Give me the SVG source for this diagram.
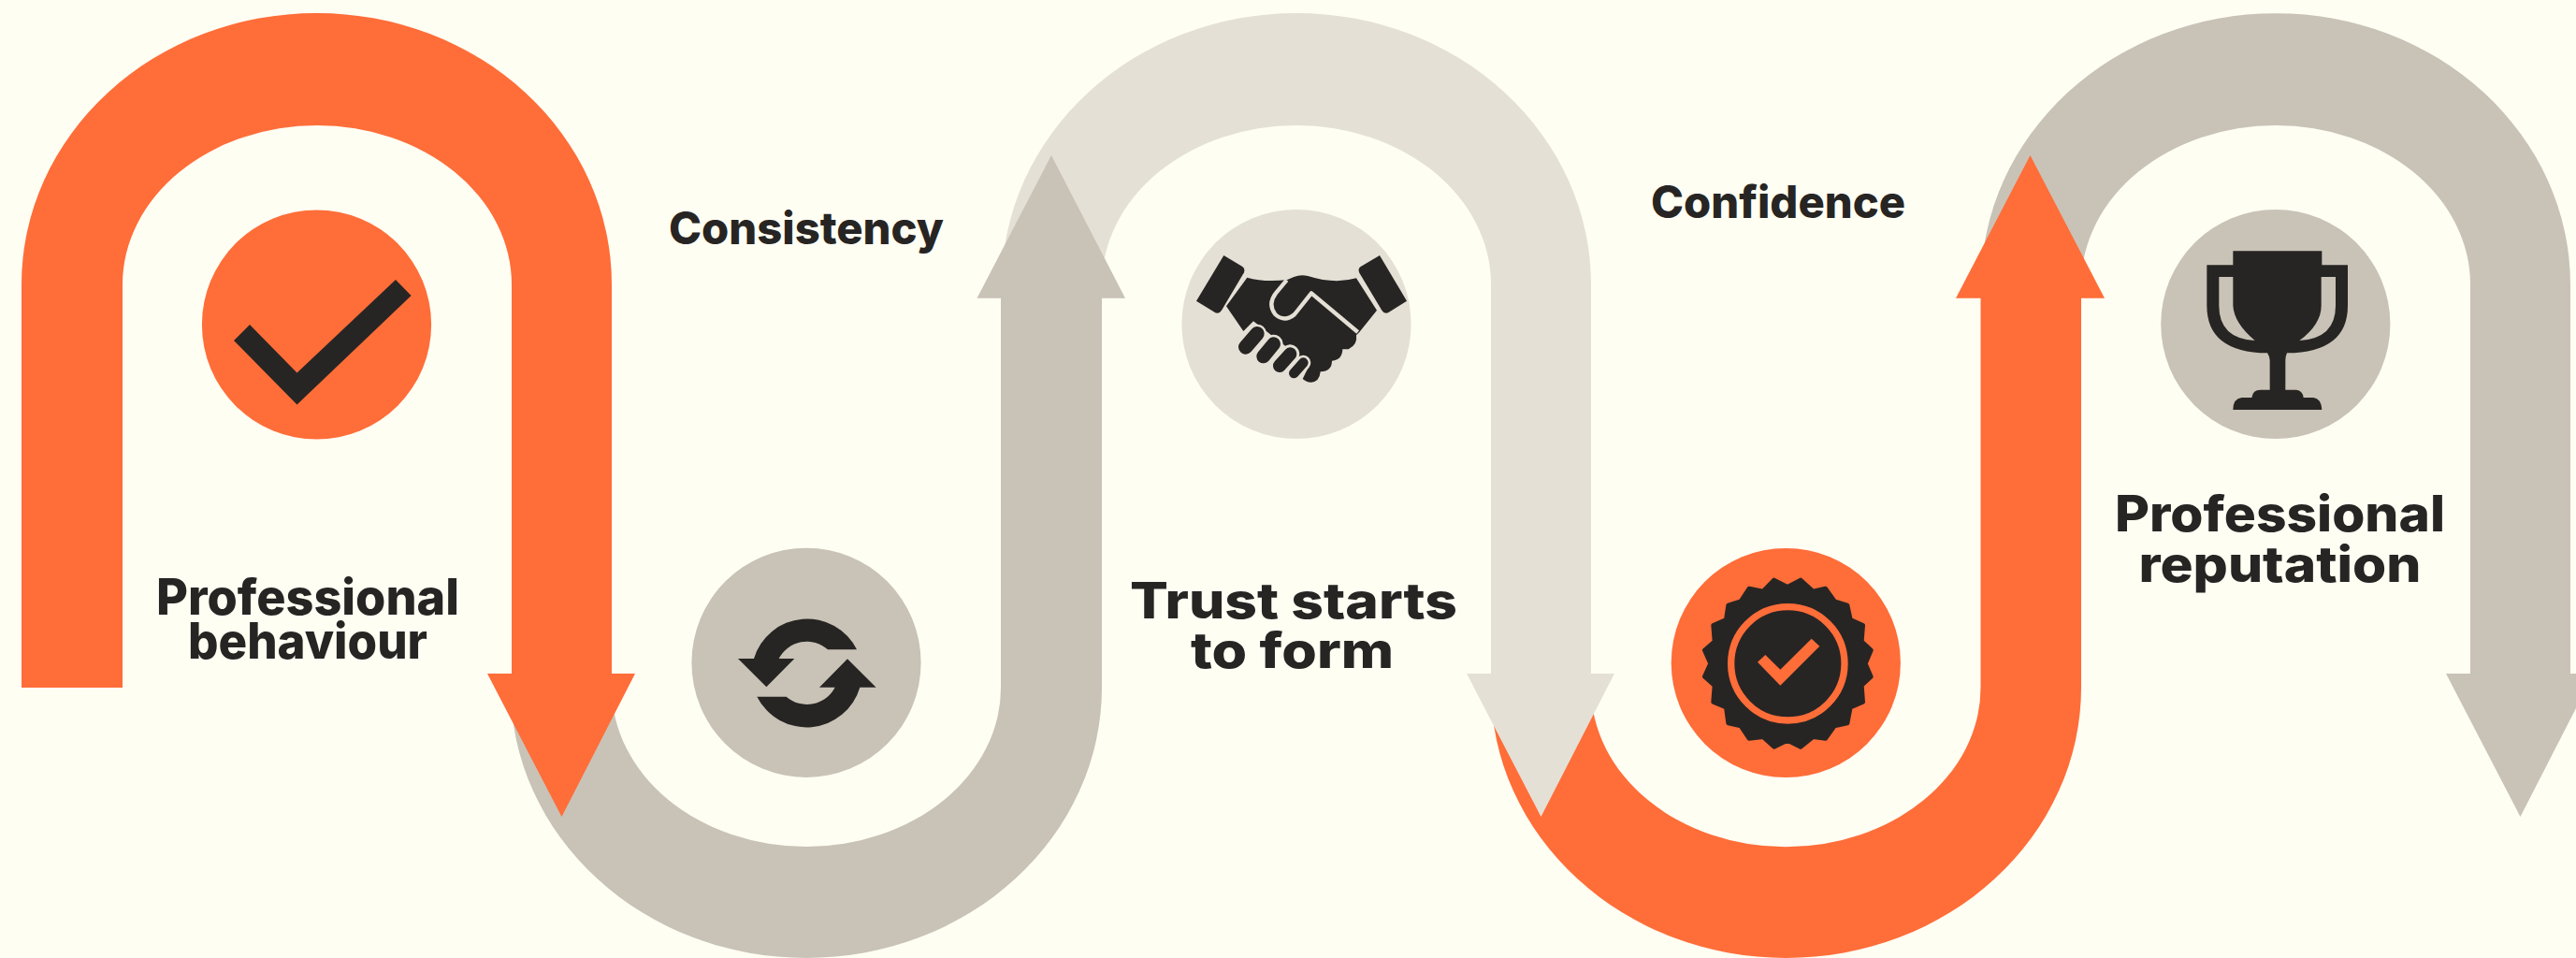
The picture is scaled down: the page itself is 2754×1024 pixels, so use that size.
<svg xmlns="http://www.w3.org/2000/svg" width="2754" height="1024" viewBox="0 0 2754 1024">
<style>
.bg{fill:#FFFEF3}
.o{fill:#FF6D39}
.g{fill:#C9C3B7}
.l{fill:#E5E0D6}
.d{fill:#272523}
text{font-family:"Inter","Liberation Sans",sans-serif;font-weight:800;fill:#272523;text-anchor:middle}
.lg{font-size:53px}
.md{font-size:48px}
</style>
<rect class="bg" width="2754" height="1024"/>
<g id="connectors">
<path id="band5" class="g" d="M2118,304A315,290 0 0 1 2748,304V720H2773L2694.5,873L2615,720H2641V304A208,170 0 0 0 2225,304Z"/>
<path id="band4" class="o" d="M1594,735A315.5,289 0 0 0 2225,735V318.7H2250L2170.5,166L2091,318.7H2117.5V735A208,170 0 0 1 1701,735Z"/>
<path id="band3" class="l" d="M1071,304A315,290 0 0 1 1701,304V720H1726L1647.5,873L1568,720H1594V304A208,170 0 0 0 1178,304Z"/>
<path id="band2" class="g" d="M546,735A316,289 0 0 0 1178,735V318.7H1203L1124,166L1044.5,318.7H1070V735A208,170 0 0 1 654,735Z"/>
<path id="band1" class="o" d="M23,735V304A315.5,290 0 0 1 654,304V720H679L600.5,873L521,720H547V304A208,170 0 0 0 131,304V735Z"/>
</g>
<g id="node-behaviour">
<circle class="o" cx="338.5" cy="347" r="122.6"/>
<path class="d" d="M267,347L317.5,398.4L423,299L439.6,316L317.5,432.4L250,364Z"/>
<text class="lg"><tspan x="329" y="656.5" textLength="324" lengthAdjust="spacingAndGlyphs">Professional</tspan><tspan x="329" y="704.3" textLength="256" lengthAdjust="spacingAndGlyphs">behaviour</tspan></text>
</g>
<g id="node-consistency">
<circle class="g" cx="862" cy="708.3" r="122.6"/>
<g class="d" transform="translate(730,580) scale(.33333)">
<path d="M558,343H465A101,101 0 0 0 308,372H358L268,463L177,372H228A178,178 0 0 1 558,343Z"/>
<path d="M238,494H332A101,101 0 0 0 488,464H438L528,373L620,464H568A178,178 0 0 1 238,494Z"/>
</g>
<text class="md" x="862" y="261" textLength="294" lengthAdjust="spacingAndGlyphs">Consistency</text>
</g>
<g id="node-trust">
<circle class="l" cx="1386" cy="346.5" r="122.6"/>
<g transform="translate(1240,210) scale(.33333)">
<path class="d" d="M205,189L265,225Q274,232 270,244L198,365Q190,378 178,373L117,335Z"/>
<path class="d" d="M705,189L644,225Q634,232 640,245L712,365Q720,378 732,373L792,335Z"/>
<path class="d" d="M280,260Q330,275 407,268L430,258Q450,250 475,255Q560,282 630,262L696,365L640,435L630,445Q635,475 605,490H586Q585,525 552,527Q552,560 515,562Q512,595 485,596Q470,596 458,585L480,540L300,400L268,432L213,352Z"/>
<path fill="none" stroke="#E5E0D6" stroke-width="13" stroke-linejoin="round" d="M407,268L372,310Q345,345 370,378Q400,405 432,378L486,310L635,435"/>
<g fill="none" stroke-linecap="round">
<path stroke="#E5E0D6" stroke-width="60" d="M275,483L312,440M332,513L365,473M384,543L418,505"/>
<path stroke="#E5E0D6" stroke-width="48" d="M430,567L460,533"/>
<path stroke="#272523" stroke-width="46" d="M275,483L312,440"/>
<path stroke="#272523" stroke-width="44" d="M332,513L365,473"/>
<path stroke="#272523" stroke-width="42" d="M384,543L418,505"/>
<path stroke="#272523" stroke-width="32" d="M430,567L460,533"/>
</g>
</g>
<text class="lg"><tspan x="1383" y="661" textLength="350" lengthAdjust="spacingAndGlyphs">Trust starts</tspan><tspan x="1381.5" y="714" textLength="217" lengthAdjust="spacingAndGlyphs">to form</tspan></text>
</g>
<g id="node-confidence">
<circle class="o" cx="1909.3" cy="708.5" r="122.6"/>
<g transform="translate(1770,570) scale(.33333)">
<path class="d" stroke="#272523" stroke-width="14" stroke-linejoin="round" d="M380,150L423,172L465,150L505,186L545,177L574,218L615,231L625,277L665,295L661,347L691,375L673,418L691,460L661,488L665,541L625,558L615,609L574,618L545,658L505,653L465,685L423,664L380,685L345,653L300,658L273,618L233,609L226,558L185,541L189,488L157,460L176,418L157,375L189,347L185,295L226,277L233,231L273,218L300,177L345,186Z"/>
<circle cx="424" cy="418" r="182" fill="none" stroke="#FF6D39" stroke-width="22"/>
<path class="o" d="M327,413L352,390L400,437L500,338L526,362L400,488Z"/>
</g>
<text class="md" x="1901" y="232.5" textLength="272" lengthAdjust="spacingAndGlyphs">Confidence</text>
</g>
<g id="node-reputation">
<circle class="g" cx="2432.8" cy="346.5" r="122.6"/>
<g transform="translate(2300,220) scale(.33333)">
<path class="d" d="M262,145H547V190H630V320Q630,470 435,472Q431,480 430,495V590H465Q485,592 488,615H520Q545,618 547,654H262Q262,618 290,615H322Q325,590 350,590H380V495Q378,480 372,472Q178,470 178,320V190H262Z"/>
<path class="g" d="M217,228H262V320Q265,375 332,432Q217,425 217,320Z"/>
<path class="g" d="M591,228H545V320Q545,380 475,432Q591,425 591,320Z"/>
</g>
<text class="lg"><tspan x="2437.5" y="568" textLength="353" lengthAdjust="spacingAndGlyphs">Professional</tspan><tspan x="2437.5" y="622" textLength="302" lengthAdjust="spacingAndGlyphs">reputation</tspan></text>
</g>
</svg>
